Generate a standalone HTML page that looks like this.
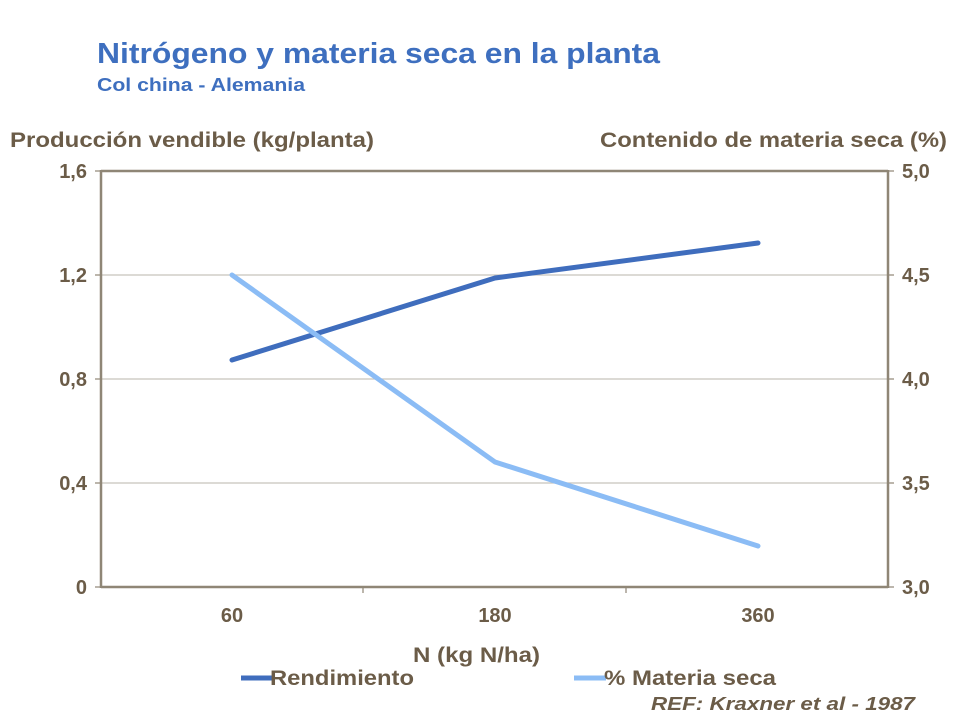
<!DOCTYPE html>
<html><head><meta charset="utf-8"><style>
body{margin:0;background:#fff;}
svg{display:block;font-family:"Liberation Sans",Arial,sans-serif;font-weight:bold;}
</style></head><body>
<svg width="960" height="720" viewBox="0 0 960 720">
<text x="97" y="63" font-size="29" fill="#3e6fbf" textLength="563" lengthAdjust="spacingAndGlyphs">Nitrógeno y materia seca en la planta</text>
<text x="97" y="91" font-size="18" fill="#3e6fbf" textLength="208" lengthAdjust="spacingAndGlyphs">Col china - Alemania</text>
<text x="10" y="147" font-size="21" fill="#6b5c48" textLength="364" lengthAdjust="spacingAndGlyphs">Producción vendible (kg/planta)</text>
<text x="600" y="147" font-size="21" fill="#6b5c48" textLength="347" lengthAdjust="spacingAndGlyphs">Contenido de materia seca (%)</text>
<g stroke="#c8c4bc" stroke-width="1.2">
<line x1="101" y1="275" x2="888" y2="275"/>
<line x1="101" y1="379" x2="888" y2="379"/>
<line x1="101" y1="483" x2="888" y2="483"/>
</g>
<g stroke="#8f8676" stroke-width="2.5">
<line x1="101" y1="171" x2="888" y2="171"/>
<line x1="101" y1="170" x2="101" y2="588"/>
<line x1="888" y1="170" x2="888" y2="588"/>
<line x1="101" y1="587" x2="888" y2="587"/>
</g>
<g stroke="#8f8676" stroke-width="1.2">
<line x1="95" y1="171" x2="101" y2="171"/><line x1="95" y1="275" x2="101" y2="275"/><line x1="95" y1="379" x2="101" y2="379"/><line x1="95" y1="483" x2="101" y2="483"/><line x1="95" y1="587" x2="101" y2="587"/>
<line x1="888" y1="171" x2="894" y2="171"/><line x1="888" y1="275" x2="894" y2="275"/><line x1="888" y1="379" x2="894" y2="379"/><line x1="888" y1="483" x2="894" y2="483"/><line x1="888" y1="587" x2="894" y2="587"/>
<line x1="363" y1="587" x2="363" y2="593"/><line x1="626" y1="587" x2="626" y2="593"/>
</g>
<g font-size="20" fill="#6b5c48" text-anchor="end">
<text x="87" y="178">1,6</text><text x="87" y="282">1,2</text><text x="87" y="386">0,8</text><text x="87" y="490">0,4</text><text x="87" y="594">0</text>
</g>
<g font-size="20" fill="#6b5c48">
<text x="902" y="178">5,0</text><text x="902" y="282">4,5</text><text x="902" y="386">4,0</text><text x="902" y="490">3,5</text><text x="902" y="594">3,0</text>
</g>
<g font-size="20" fill="#6b5c48" text-anchor="middle">
<text x="232" y="622">60</text><text x="495" y="622">180</text><text x="758" y="622">360</text>
</g>
<text x="413" y="662" font-size="21" fill="#6b5c48" textLength="127" lengthAdjust="spacingAndGlyphs">N (kg N/ha)</text>
<polyline points="232,360 495,278 758,243" fill="none" stroke="#3f6dbd" stroke-width="5" stroke-linecap="round" stroke-linejoin="round"/>
<polyline points="232,275 495,462 758,546" fill="none" stroke="#8bbcf5" stroke-width="5" stroke-linecap="round" stroke-linejoin="round"/>
<line x1="241" y1="678" x2="272" y2="678" stroke="#3f6dbd" stroke-width="5"/>
<text x="270" y="685" font-size="21" fill="#6b5c48" textLength="144" lengthAdjust="spacingAndGlyphs">Rendimiento</text>
<line x1="574" y1="678" x2="606" y2="678" stroke="#8bbcf5" stroke-width="5"/>
<text x="604" y="685" font-size="21" fill="#6b5c48" textLength="172" lengthAdjust="spacingAndGlyphs">% Materia seca</text>
<text x="651" y="710" font-size="18" font-style="italic" fill="#6b5c48" textLength="264" lengthAdjust="spacingAndGlyphs">REF: Kraxner et al - 1987</text>
</svg>
</body></html>
